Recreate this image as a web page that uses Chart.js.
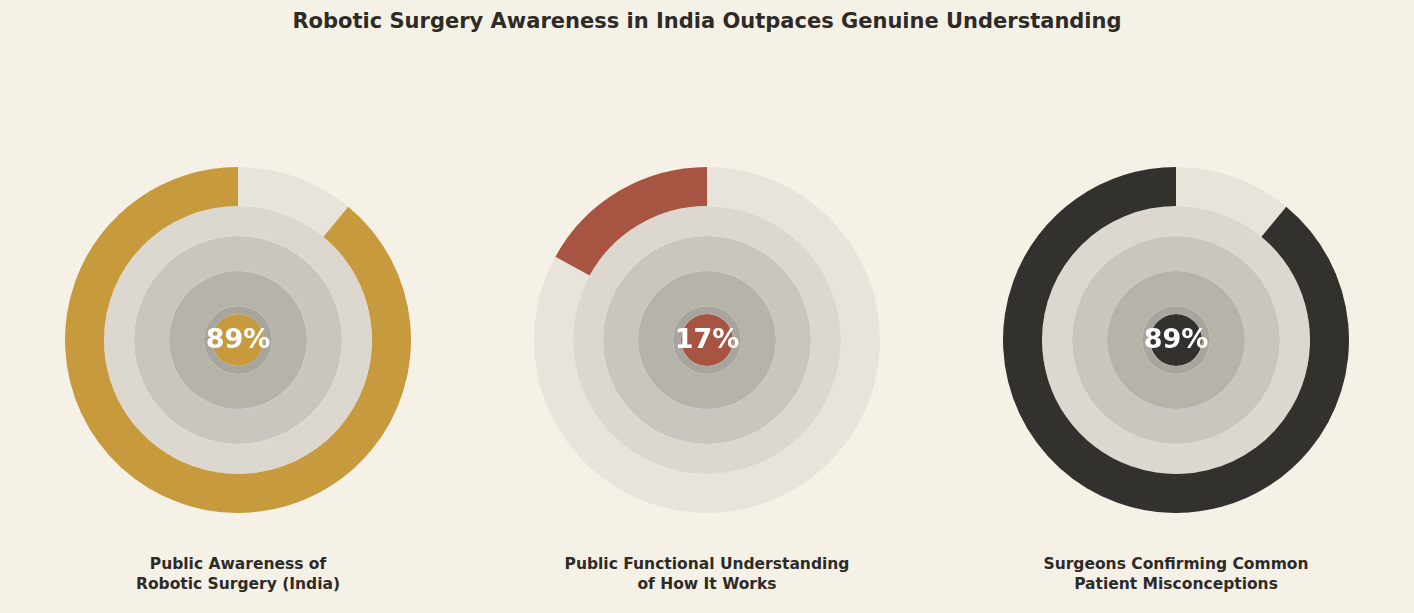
<!DOCTYPE html>
<html>
<head>
<meta charset="utf-8">
<script src="https://cdn.jsdelivr.net/npm/chart.js@4"></script>
<style>
  body { margin: 0; background: #f5f1e7; font-family: "DejaVu Sans", sans-serif; color: #2e2b27; }
  #wrap { position: relative; width: 1414px; height: 613px; }
  h1 { position: absolute; top: 9px; left: 0; width: 1414px; margin: 0; text-align: center; font-size: 21px; font-weight: bold; }
  .box { position: absolute; top: 167px; width: 346px; height: 346px; }
  .lab { position: absolute; top: 554px; width: 400px; text-align: center; font-size: 15.5px; font-weight: bold; line-height: 20px; }
</style>
</head>
<body>
<div id="wrap">
  <h1>Robotic Surgery Awareness in India Outpaces Genuine Understanding</h1>
</div>
<script>
const labels = ["Public Awareness of\nRobotic Surgery (India)", "Public Functional Understanding\nof How It Works", "Surgeons Confirming Common\nPatient Misconceptions"];
const values = [89, 17, 89];
const colors = ["#c89a3e", "#a85442", "#33312d"];
const centersX = [238, 707, 1176];

const rings = [
  { w: 30, c: "#dcd8d0" },
  { w: 35, c: "#c9c6bf" },
  { w: 35, c: "#b6b3ab" },
  { w: 8, c: "#a8a59e" }
];

const wrap = document.getElementById("wrap");

values.forEach((v, i) => {
  const box = document.createElement("div");
  box.className = "box";
  box.style.left = (centersX[i] - 173) + "px";
  const cv = document.createElement("canvas");
  box.appendChild(cv);
  wrap.appendChild(box);

  const lab = document.createElement("div");
  lab.className = "lab";
  lab.style.left = (centersX[i] - 200) + "px";
  lab.innerHTML = labels[i].replace("\n", "<br>");
  wrap.appendChild(lab);

  // remainder first so the value arc runs counter-clockwise from 12 o'clock
  const datasets = [{ data: [100 - v, v], backgroundColor: ["#e8e4dc", colors[i]], weight: 39 }];
  rings.forEach(r => datasets.push({ data: [100], backgroundColor: [r.c], weight: r.w }));
  datasets.push({ data: [100], backgroundColor: [colors[i]], weight: 26 });

  new Chart(cv, {
    type: "doughnut",
    data: { labels: ["a", "b"], datasets: datasets },
    options: {
      responsive: true,
      maintainAspectRatio: false,
      cutout: 0,
      animation: false,
      layout: { padding: 0 },
      elements: { arc: { borderWidth: 0 } },
      plugins: { legend: { display: false }, tooltip: { enabled: false } }
    },
    plugins: [{
      id: "centerText",
      afterDraw(chart) {
        const c = chart.ctx;
        const a = chart.chartArea;
        c.save();
        c.fillStyle = "#ffffff";
        c.font = "bold 27px 'DejaVu Sans'";
        c.textAlign = "center";
        c.textBaseline = "middle";
        c.fillText(v + "%", (a.left + a.right) / 2, (a.top + a.bottom) / 2 + 1);
        c.restore();
      }
    }]
  });
});
</script>
</body>
</html>
